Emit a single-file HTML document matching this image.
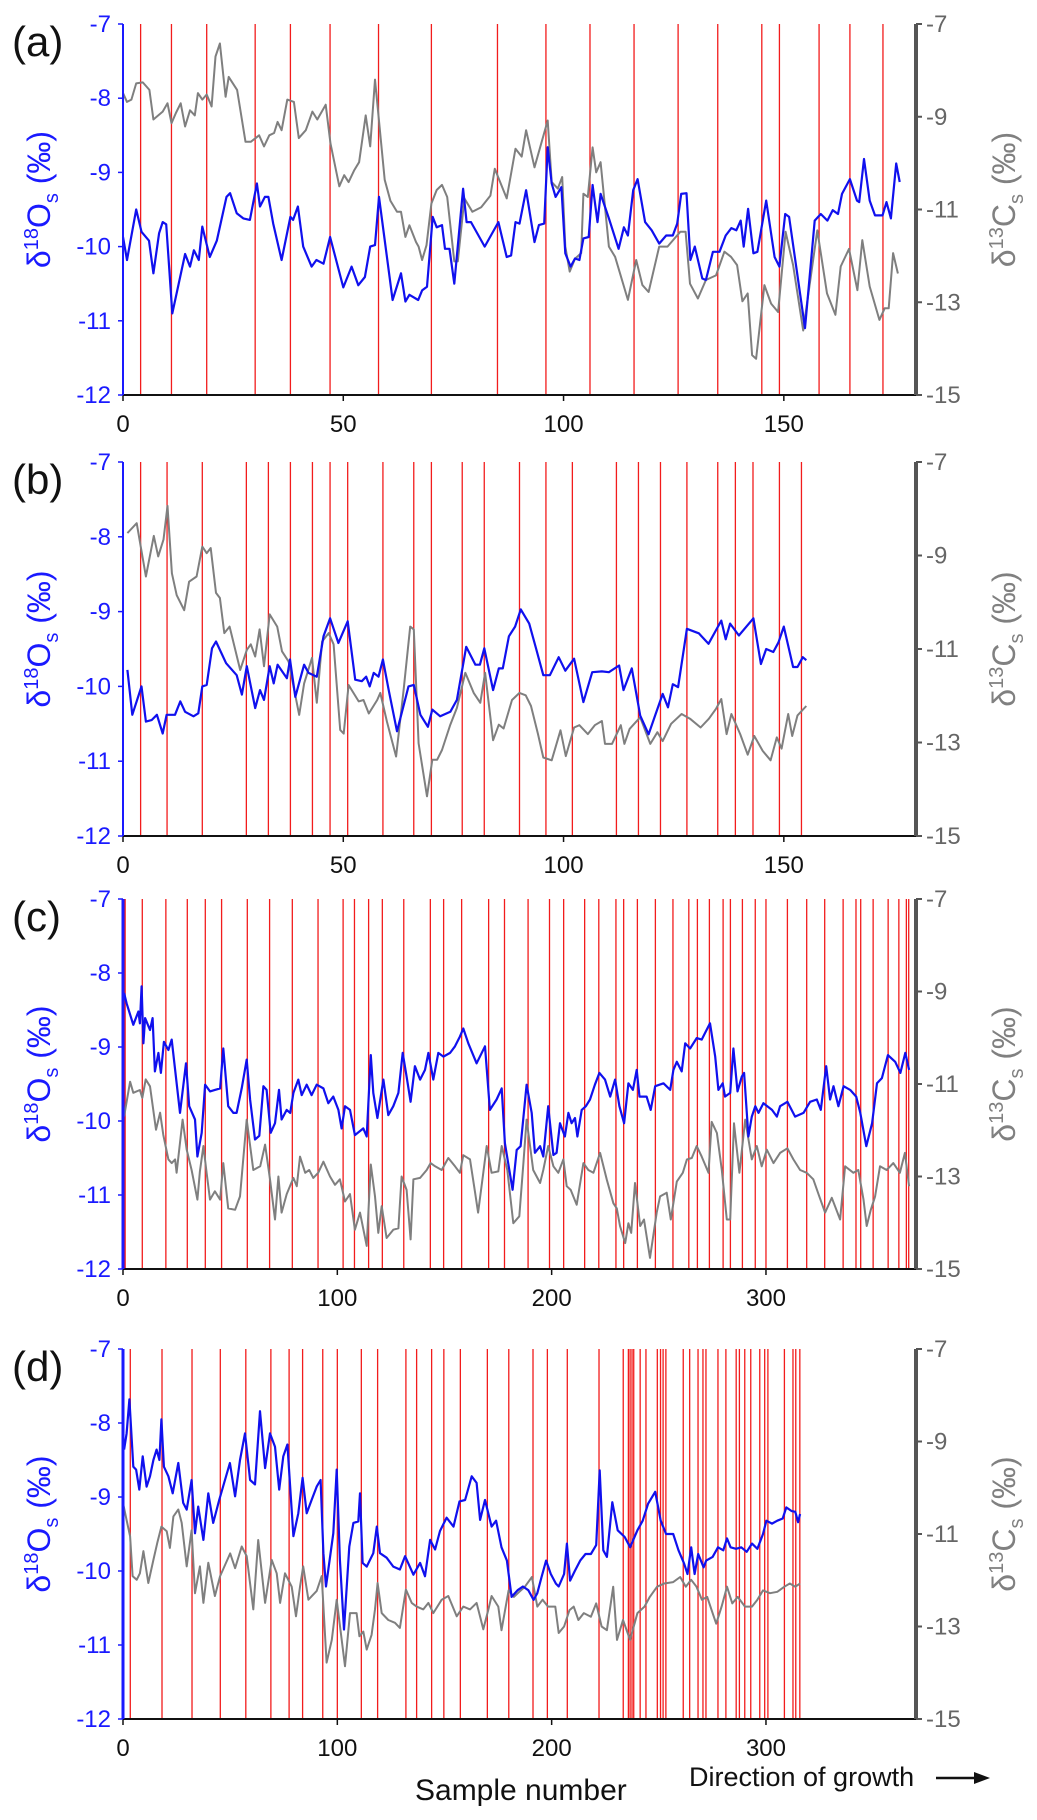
<!DOCTYPE html>
<html><head><meta charset="utf-8"><style>
html,body{margin:0;padding:0;background:#fff;}
svg{display:block;font-family:"Liberation Sans",sans-serif;}
</style></head><body>
<svg id="fig" width="1037" height="1820" viewBox="0 0 1037 1820" xmlns="http://www.w3.org/2000/svg"></svg>
<script>
// ---------- Panel (a) ----------
const aS18=[0,0.9,3,4.2,5.9,6.9,8.2,9,9.8,11.2,14.1,15.2,16.1,17.2,18,19.7,21.3,23.5,24.3,25.8,27.3,28.8,30.4,31.1,32.2,33,34.1,36,38,38.6,39.7,40.9,42.8,43.9,45.5,47,50,51.9,53.4,54.9,56.1,57.2,58.1,61.2,63.1,64.1,65,67,67.9,69,70.3,71.2,72.4,73.1,74.1,75.2,77.2,78,79,82.1,85.2,87.1,88.1,89.1,90,91.5,93.4,94.4,95.6,96.4,97.3,98.2,99.5,100.4,101.6,102.6,103.6,104.5,105.7,106.6,107.7,108.4,110.3,112.5,113.7,114.6,115.8,116.8,118.5,120,121.7,123.3,124.8,125.8,126.7,127.9,128.8,129.8,131.5,132.3,133.9,135.4,136.8,138.1,139.2,140.2,140.9,141.9,143.1,144,146,147.9,149,150.3,151.2,154.8,157,158.4,159.9,161.1,162.3,163.2,165,166.6,167.1,168.2,169.5,170.7,172.4,173.3,174.3,175.5,176.3];
const aD18=[-9.87,-10.18,-9.5,-9.8,-9.92,-10.36,-9.82,-9.67,-9.7,-10.9,-10.1,-10.27,-10.05,-10.18,-9.73,-10.14,-9.92,-9.33,-9.28,-9.55,-9.62,-9.64,-9.15,-9.46,-9.33,-9.33,-9.69,-10.18,-9.6,-9.64,-9.46,-10,-10.27,-10.18,-10.23,-9.87,-10.55,-10.27,-10.52,-10.41,-10,-9.98,-9.33,-10.72,-10.36,-10.74,-10.65,-10.72,-10.59,-10.54,-9.6,-9.74,-9.71,-10.03,-10.03,-10.5,-9.22,-9.67,-9.67,-10,-9.67,-10.14,-10.12,-9.67,-9.69,-9.24,-9.94,-9.71,-9.69,-8.66,-9.15,-9.33,-9.2,-10.09,-10.27,-10.16,-10.18,-9.89,-9.87,-9.17,-9.67,-9.29,-9.62,-10.03,-9.74,-9.85,-9.24,-9.09,-9.67,-9.78,-9.96,-9.85,-9.85,-9.69,-9.29,-9.28,-10.18,-10,-10.43,-10.45,-10.07,-10.07,-9.85,-9.75,-9.78,-9.65,-10,-9.49,-10.09,-10.07,-9.38,-10.14,-10.27,-9.56,-9.6,-11.1,-9.65,-9.56,-9.65,-9.51,-9.56,-9.29,-9.09,-9.38,-9.4,-8.82,-9.38,-9.58,-9.58,-9.4,-9.62,-8.88,-9.13];
const aS13=[0,0.9,1.9,3,4.5,6,6.9,9,10.1,11,12,13.1,14.1,15.2,16.3,17,18,19,20.1,21,22,23.3,24,25.9,27.8,29,30.9,32,33.2,34.3,35.1,36,37.3,38.8,39.9,41.5,43,44.1,46,47.1,49.1,50.2,51.2,52.5,53.6,55.1,56.1,57.2,59.4,60.7,62.2,63.1,64.1,65,66.5,67.1,67.9,68.9,70,71.2,72.4,73.6,75.2,76,77.5,79.3,81.3,83.4,84.4,87.1,89.1,90.5,91.5,93.4,96.4,97.3,98.7,99.7,100.4,101.4,102.6,104,104.5,105.5,106.6,107.4,108.4,110.3,111.7,114.6,116.5,117.9,119.3,121.7,123.6,125.5,126.5,127.7,128.7,130.5,132.3,134.6,136.5,138,139.4,140.6,141.8,142.8,143.7,145.6,147.1,148.7,150.4,152.1,154.4,157.6,159.8,161.7,162.9,164.8,166.7,167.8,169.5,171.7,172.9,173.8,174.8,175.9];
const aD13=[-8.49,-8.68,-8.63,-8.28,-8.26,-8.42,-9.06,-8.89,-8.71,-9.14,-8.92,-8.71,-9.21,-8.86,-8.97,-8.49,-8.63,-8.52,-8.78,-7.7,-7.42,-8.57,-8.14,-8.42,-9.54,-9.54,-9.4,-9.64,-9.4,-9.35,-9.11,-9.29,-8.63,-8.68,-9.46,-9.29,-8.89,-9.06,-8.74,-9.58,-10.5,-10.26,-10.41,-10.15,-9.98,-8.97,-9.64,-8.2,-10.36,-10.81,-11.05,-11.05,-11.59,-11.34,-11.7,-11.8,-12.09,-11.77,-10.87,-10.58,-10.47,-10.73,-12.12,-12.12,-10.76,-11.05,-10.95,-10.7,-10.12,-10.76,-9.69,-9.86,-9.29,-10.09,-9.08,-10.41,-10.55,-10.3,-11.8,-12.34,-12.06,-11.94,-10.66,-10.73,-9.66,-10.2,-9.98,-11.8,-12.02,-12.95,-12.09,-12.63,-12.78,-11.8,-11.8,-11.59,-11.48,-11.48,-12.6,-12.92,-12.52,-12.42,-11.91,-12.02,-12.2,-12.98,-12.81,-14.14,-14.22,-12.63,-13.03,-13.21,-11.48,-12.2,-13.61,-11.45,-12.81,-13.27,-12.23,-11.85,-12.74,-11.66,-12.66,-13.38,-13.13,-13.13,-11.94,-12.38];
const aMarks=[4,11,19,30,38,47,58,70,85,96,106,116,126,135,145,149,158,165,172.5];
const aTicks=[0,50,100,150];

// ---------- Panel (b) ----------
const bS18=[1,2.1,4.2,5.2,6.5,7.7,9,9.9,11.8,13,14.1,16,17.1,18,19,20.2,21.1,23.4,25.8,27,28.1,30,31.1,32,33.3,34.2,35.1,37.2,37.9,39.1,41.1,42.1,44,45.5,47,48.9,51,52.7,54.2,55.2,56,56.9,58,59,60.3,62.2,64.8,66,67.5,69.2,70.2,72,74.3,75.8,77.9,80,81,82,84,85.3,86.2,87.6,89,90.3,92.2,93.8,95.4,96.9,98.9,100.4,102.4,104.5,106.5,108.7,110.3,112.6,113.6,115.5,117.4,119.3,120.9,122.5,123.7,124.8,126,128,130.7,132.9,135.8,136.8,137.8,139.8,143.1,144.8,146,147.6,148.8,150,152.1,153.1,154.3,155.1];
const bD18=[-9.78,-10.38,-10,-10.47,-10.45,-10.38,-10.63,-10.38,-10.38,-10.2,-10.34,-10.4,-10.36,-10,-9.98,-9.49,-9.4,-9.69,-9.85,-10.11,-9.73,-10.29,-10.05,-10.18,-9.73,-9.96,-9.71,-9.89,-9.64,-10.14,-9.71,-9.82,-9.87,-9.33,-9.09,-9.42,-9.13,-9.91,-9.93,-9.87,-10,-9.82,-9.87,-9.64,-10.05,-10.6,-10,-9.98,-10.38,-10.54,-10.31,-10.4,-10.34,-10.18,-9.47,-9.71,-9.71,-9.49,-10.05,-9.76,-9.76,-9.33,-9.2,-8.97,-9.16,-9.5,-9.85,-9.85,-9.61,-9.79,-9.63,-10.21,-9.81,-9.8,-9.81,-9.72,-10.05,-9.76,-10.39,-10.64,-10.37,-10.1,-10.28,-9.97,-10.01,-9.23,-9.29,-9.43,-9.12,-9.37,-9.16,-9.32,-9.09,-9.7,-9.5,-9.54,-9.41,-9.2,-9.74,-9.74,-9.61,-9.65];
const bS13=[1,3.1,5.2,7,8,9.2,10.1,11.1,12.2,13.9,15,16.7,18,19,19.9,21.1,22,23,24.2,26.6,28.1,29,30,31,32,33.3,35,36.1,37.6,40,41.1,42.9,44,45.2,46.7,47.8,49.3,50.1,51.2,53.5,54.6,55.8,57.7,58.4,59.9,62,63.7,65.2,66,67.1,69,70.2,71.3,72.4,74.3,75.8,77.7,79.6,81.1,82.2,84,85.3,86.4,88.3,90,91.4,92.6,94.2,95.4,97.3,99.3,100.5,102.4,103.6,105.5,107.1,108.7,109.4,111,113,113.8,115,117.4,119.7,121.3,122.5,124.4,126.8,128.7,131.1,133,134.6,135.8,137,138.1,140.1,141.8,143.3,145.2,147,148.4,149.5,151,151.9,153.1,155.1];
const bD13=[-8.52,-8.31,-9.45,-8.58,-9.02,-8.66,-7.94,-9.38,-9.85,-10.17,-9.56,-9.45,-8.81,-8.95,-8.84,-9.8,-9.91,-10.66,-10.52,-11.45,-11.02,-10.9,-11.16,-10.58,-11.37,-10.26,-10.52,-11.05,-11.27,-12.41,-11.74,-11.19,-12.15,-10.84,-10.66,-10.9,-12.73,-12.81,-11.77,-12.12,-12.09,-12.38,-12.09,-11.94,-12.55,-13.3,-11.88,-10.52,-10.58,-13.02,-14.15,-13.37,-13.37,-13.16,-12.62,-12.26,-11.51,-11.94,-12.15,-11.51,-12.95,-12.62,-12.7,-12.09,-11.94,-11.99,-12.22,-12.82,-13.32,-13.38,-12.74,-13.29,-12.68,-12.63,-12.82,-12.63,-12.54,-13.03,-13.03,-12.63,-13.03,-12.71,-12.46,-13.03,-12.78,-12.97,-12.6,-12.39,-12.49,-12.68,-12.49,-12.28,-12.07,-12.82,-12.39,-12.82,-13.26,-12.86,-13.18,-13.38,-12.89,-13.13,-12.39,-12.86,-12.42,-12.22];
const bMarks=[4,10,18,28,33,38,43,47,51,59,66,70,77,82,90,96,102,112,117,122,128,135,139,143,149,154];
const bTicks=[0,50,100,150];

// ---------- Panel (c) ----------
const cS18=[0.5,1.7,4.8,7.2,7.9,8.7,9.5,10.3,12.6,13.8,14.9,16.5,17.7,19.1,21.2,22.7,26.6,29.4,30.9,33.6,34.7,36.7,38.3,40.6,42.9,45.3,46.8,49.1,51.5,53,55.4,57.7,59.3,61.6,63.6,65.5,67,68.9,70.9,72.8,74,76.4,78,79.5,81.8,83.4,85.7,88,90.4,93.5,95.8,98.1,100.5,102,103.6,105.9,108.2,112.1,113.7,115.6,116.8,118.7,121.5,123.8,126.1,128.5,130.5,132.3,134.2,136.2,138.6,140.9,142.5,144.8,147.1,149.5,152.6,154.9,157.2,158.8,161.1,165,168.9,171.2,174.3,176.7,178.2,181.8,183.7,185.5,188.3,190.7,192.2,194.6,196.1,198.4,200.8,202.3,203.9,206.2,207.8,209.3,210.9,212,214,216,217.9,220.2,222.3,224.9,227.3,229.6,231.6,233.8,235.8,237.9,239.7,241,244.3,246.2,248.3,252.2,255.3,256.8,258.4,260.7,262.3,264.6,267.7,270,271.6,273.9,276.3,277.8,279.8,280.9,283.3,284.8,286.7,288.7,289.8,291.8,293.4,295,296.5,298.8,302.8,305.1,306.6,310,313.6,317.5,320.6,323.7,325.6,328.1,329.9,331.5,333.8,336.2,339.3,342.1,344,346.8,349.5,351.8,354.1,356.9,360.3,362.7,365,366.8];
const cD18=[-8.27,-8.41,-8.7,-8.52,-8.68,-8.18,-8.95,-8.61,-8.77,-8.61,-9.33,-9.08,-9.35,-8.93,-9.04,-8.9,-9.89,-9.22,-9.8,-9.98,-10.48,-10.16,-9.51,-9.6,-9.58,-9.56,-9.02,-9.8,-9.89,-9.89,-9.56,-9.17,-9.71,-10.25,-10.2,-9.53,-9.58,-10.16,-10.03,-9.58,-9.98,-9.85,-9.89,-9.62,-9.44,-9.65,-9.51,-9.65,-9.51,-9.56,-9.76,-9.67,-9.85,-10.1,-9.8,-9.85,-10.19,-10.1,-10.21,-9.11,-9.62,-9.96,-9.44,-9.92,-9.8,-9.62,-9.08,-9.4,-9.74,-9.26,-9.44,-9.31,-9.08,-9.44,-9.08,-9.13,-9.08,-8.99,-8.86,-8.75,-8.95,-9.22,-8.99,-9.85,-9.71,-9.56,-10.3,-10.93,-10.39,-10.34,-9.51,-9.89,-10.43,-10.34,-10.48,-9.8,-10.46,-10.43,-10.03,-10.21,-9.89,-10.03,-9.96,-10.21,-9.85,-9.8,-9.71,-9.51,-9.35,-9.44,-9.67,-9.44,-9.8,-10.03,-9.49,-9.58,-9.31,-9.67,-9.67,-9.85,-9.53,-9.49,-9.58,-9.31,-9.2,-9.33,-8.95,-9.02,-8.88,-8.9,-8.81,-8.68,-9.13,-9.58,-9.49,-9.67,-9.62,-9.02,-9.6,-9.4,-9.35,-10.21,-9.94,-9.8,-9.89,-9.76,-9.85,-9.94,-9.8,-9.74,-9.94,-9.89,-9.74,-9.71,-9.85,-9.26,-9.71,-9.53,-9.8,-9.53,-9.58,-9.67,-9.89,-10.34,-10.03,-9.49,-9.42,-9.11,-9.2,-9.35,-9.08,-9.31];
const cS13=[0.5,3.3,4.8,7.9,9,10.6,12.6,15.4,17.3,18.8,21.2,22.7,24.3,25,27.8,29.7,32,34.7,35.9,37.5,39,40.6,42.9,45.3,46.8,49.1,52.3,54.6,57.7,60.8,64,66.3,68.6,70.9,72.5,74,76.4,79.5,81.1,82.6,85,86.9,88.8,91.1,93.5,96.6,98.9,101.2,103.6,105.9,108.2,110.6,113.7,115.6,117.6,119.1,120.7,123,126.1,128.5,130,132.3,134.2,135.5,138.6,141.7,143.5,145.6,148.7,151.8,154.9,157.2,158.8,161.9,164.2,165.7,168.1,169.7,172,175.1,176.7,179.3,182.1,184.9,186.8,188.3,191.4,194.6,196.1,198.4,200.8,203.1,205.5,207,208.9,211.7,214.8,217.1,219.5,222.6,225.7,228.8,230.4,231.9,234.3,235.8,237.1,238.9,241.3,243.1,245.9,249,250.6,253.7,255.6,258.4,261.2,263.1,265.4,267.7,270,273.2,274.7,277.1,279.4,281.7,283.3,285.1,287.6,290.3,293.4,295.7,298,300.4,303.5,306.6,310,312.8,315.9,319,322.1,324.9,327.6,330.7,334.6,336.9,340.8,343.1,345.5,347,348.9,350.9,353.2,356.3,359.4,362.5,364.8,366.8];
const cD13=[-11.7,-10.95,-11.19,-11.13,-11.3,-10.9,-11.05,-11.99,-11.62,-12.1,-12.63,-12.71,-12.63,-12.92,-11.77,-12.42,-12.86,-13.5,-12.89,-12.34,-12.92,-13.5,-13.32,-13.5,-12.71,-13.69,-13.72,-13.43,-11.77,-12.86,-12.78,-12.31,-13.06,-13.93,-13,-13.78,-13.38,-13.03,-13.21,-12.57,-12.92,-12.86,-13.03,-12.92,-12.68,-13,-13.18,-13.06,-13.54,-13.38,-14.15,-13.78,-14.5,-12.74,-13.43,-14.22,-13.64,-14.33,-14.15,-14.12,-13,-13.29,-14.36,-13.06,-13.03,-12.86,-12.71,-12.78,-12.86,-12.6,-12.78,-12.92,-12.54,-12.63,-13.32,-13.78,-12.92,-12.34,-12.92,-12.89,-12.34,-12.86,-14.01,-13.86,-12.71,-11.77,-12.86,-13.14,-12.86,-12.34,-12.78,-12.92,-12.63,-13.21,-13.29,-13.61,-12.71,-12.86,-12.92,-12.49,-13.06,-13.58,-13.69,-14.07,-14.44,-14.01,-14.22,-13.14,-14.07,-13.93,-14.76,-13.78,-13.43,-13.35,-13.93,-13.11,-12.92,-12.63,-12.6,-12.34,-12.57,-12.92,-11.82,-12.06,-12.86,-13.93,-13.93,-11.85,-12.92,-11.77,-12.63,-12.34,-12.78,-12.42,-12.71,-12.49,-12.39,-12.63,-12.86,-12.92,-13.06,-13.43,-13.78,-13.46,-13.93,-12.78,-12.92,-12.86,-13.5,-14.07,-13.72,-13.43,-12.78,-12.86,-12.71,-12.92,-12.49,-13.21];
const cMarks=[1,9,20,30,38.4,46,58,68.4,79,91,102.7,108,114.6,121,131,143.4,149.6,158,170.6,178,189,199,205.6,215.4,222,230,233.6,240,248.4,256.6,264,268,273.6,280,283.4,289,295,300,310,319,327.4,336,342,344.2,350,357,362,365.5,366.6];
const cTicks=[0,100,200,300];

// ---------- Panel (d) ----------
const dS18=[0.5,1.7,3,4.8,6.1,7.6,9.2,11,12.6,14.2,15.7,17,17.9,19.1,21.2,23.2,25.8,28.1,29.7,32,33.6,35.1,37.5,39.8,42.1,44.9,49.9,52.3,54.6,56.9,59.3,61.6,63.9,66.3,68.6,70.9,72.9,74.8,76.7,79.5,81.8,83.8,85.7,88,90.4,92.2,93.5,94.7,98.1,99.7,101.2,103.1,105.6,107.5,109.8,110.6,111.8,113.7,116.8,118.4,119.9,123,126.1,129.2,131.6,135.5,138.6,140.9,143.3,145.6,147.9,151,154.2,157,159.6,162.7,165,166.6,168.9,172,174.1,176.6,179.1,181.3,184.1,186.6,189.1,191.6,193.3,195.3,197.4,199.6,202,203.3,205.8,207.1,208.6,210.8,213.3,215.8,218.3,220.8,222.4,224.1,225.8,228.3,230.8,234.1,236.6,240,242.5,245,248.3,250.9,253.4,256.7,259.2,261.8,263.4,265.1,266.7,268.4,270.9,272.1,275.1,277.6,280.1,281.8,283.5,286,288.5,291,293.5,296,298.6,300.2,302.8,305.3,307.8,309.5,312,313.7,315,315.9];
const dD18=[-8.36,-8.14,-7.68,-8.59,-8.63,-8.9,-8.45,-8.86,-8.72,-8.5,-8.36,-8.5,-7.95,-8.59,-8.72,-8.95,-8.54,-9.08,-9.17,-8.77,-9.49,-9.13,-9.58,-8.95,-9.35,-9.04,-8.54,-8.99,-8.5,-8.14,-8.77,-8.83,-7.84,-8.61,-8.14,-8.32,-8.9,-8.45,-8.29,-9.53,-9.22,-8.74,-9.22,-9.04,-8.86,-8.77,-9.76,-10.21,-9.49,-8.63,-9.85,-10.79,-9.67,-9.35,-9.33,-8.95,-9.89,-9.94,-9.76,-9.4,-9.76,-9.82,-9.94,-9.98,-9.8,-10.05,-9.89,-10.07,-9.58,-9.71,-9.46,-9.28,-9.4,-9.06,-9.04,-8.72,-8.81,-9.31,-9.04,-9.4,-9.32,-9.68,-9.86,-10.35,-10.26,-10.21,-10.26,-10.39,-10.3,-10.08,-9.86,-10.04,-10.17,-10.21,-10.04,-9.63,-10.13,-10,-9.86,-9.77,-9.77,-9.65,-8.64,-9.72,-9.81,-9.07,-9.45,-9.54,-9.68,-9.45,-9.32,-9.09,-8.93,-9.32,-9.5,-9.5,-9.72,-9.9,-10.04,-9.68,-10.04,-9.77,-9.95,-9.86,-9.81,-9.68,-9.72,-9.56,-9.68,-9.7,-9.68,-9.74,-9.63,-9.7,-9.5,-9.32,-9.36,-9.32,-9.29,-9.14,-9.19,-9.2,-9.34,-9.23];
const dS13=[0,1.7,3.3,4.5,6.4,7.9,9.5,11.8,14.2,16,17.9,20.4,21.9,23.5,25.8,27.4,29.7,32,33.6,35.9,37.5,39.8,42.9,45.3,50,52.3,55.4,57.7,60.8,63.1,66.3,69.4,71.7,73.3,75.6,78.7,80.7,82.6,84.1,86.5,90.4,92.7,95,97.4,99.7,103.6,105.9,109,110.3,112.1,113.7,116,117.6,118.8,120.7,123.8,126.9,129.2,132,134.7,137,140.1,142.5,144.8,148.7,151.8,155.7,158.8,161.9,165,168.1,170.5,172,175.1,176.6,179.9,182.4,184.9,187.5,190.8,193.3,195.8,198.3,201.7,203.3,205.8,208.3,210.3,212.5,215,218.3,220.8,223.3,225.8,228.7,230.5,233.3,236.6,240,243.3,245.8,249.2,252.5,256.7,260,262.6,265.1,267.6,270.1,272.6,275.1,276.8,279.3,281.8,284.3,286.8,290.2,293.5,296,298.6,301.9,305.3,308.6,311.1,313.7,315.9];
const dD13=[-10.33,-10.7,-11.05,-11.91,-11.99,-11.85,-11.37,-12.06,-11.56,-11.19,-10.84,-10.94,-11.3,-10.62,-10.47,-10.76,-11.7,-10.92,-12.28,-11.7,-12.49,-11.62,-12.34,-11.91,-11.42,-11.74,-11.27,-11.48,-12.63,-11.13,-12.49,-11.56,-11.85,-12.49,-11.85,-12.14,-12.78,-12.14,-11.7,-12.42,-12.23,-11.91,-13.78,-13.29,-12.42,-13.86,-12.71,-12.71,-13.21,-13.11,-13.5,-13.18,-12.63,-12.06,-12.71,-12.86,-12.92,-13.03,-12.2,-12.49,-12.57,-12.63,-12.49,-12.71,-12.42,-12.34,-12.78,-12.57,-12.63,-12.49,-13.06,-12.63,-12.34,-12.57,-13.08,-12.22,-12.36,-12.25,-12.14,-11.93,-12.57,-12.42,-12.57,-12.57,-13.14,-13,-12.65,-12.57,-12.86,-12.71,-12.79,-12.5,-13,-13.08,-12.14,-13.29,-12.86,-13.29,-12.71,-12.57,-12.36,-12.14,-12.07,-12.04,-11.93,-12.14,-11.99,-12.14,-12.42,-12.36,-12.71,-12.94,-12.57,-12.14,-12.5,-12.36,-12.57,-12.57,-12.42,-12.22,-12.28,-12.25,-12.14,-12.07,-12.14,-12.07];
const dMarks=[3.4,18.2,32.2,45.4,57.3,69,77.5,83.8,93.2,100,111.2,118.8,132,137,144,149.7,157.4,170,180,191.3,198,207.3,222.1,233.4,235.8,236.6,237.5,238.3,241.3,244,249.3,250.8,252,253.3,261.4,264.4,268.3,270.6,272,277.6,281.3,286.1,287.6,290.1,292.9,297.1,299.4,300.9,308.6,312.6,313.9,315.8];
const dTicks=[0,100,200,300];

const leftTicks=[-7,-8,-9,-10,-11,-12];
const rightTicks=[-7,-9,-11,-13,-15];

const NS='http://www.w3.org/2000/svg';
const svg=document.getElementById('fig');
const X0=123, X1=916;
function mk(tag,attrs,parent){const e=document.createElementNS(NS,tag);for(const k in attrs)e.setAttribute(k,attrs[k]);(parent||svg).appendChild(e);return e;}

const panels=[
 {id:'a',top:24,bot:395,xmax:180,s18:aS18,d18:aD18,s13:aS13,d13:aD13,marks:aMarks,ticks:aTicks},
 {id:'b',top:462,bot:836,xmax:180,s18:bS18,d18:bD18,s13:bS13,d13:bD13,marks:bMarks,ticks:bTicks},
 {id:'c',top:899,bot:1269,xmax:370,s18:cS18,d18:cD18,s13:cS13,d13:cD13,marks:cMarks,ticks:cTicks},
 {id:'d',top:1349,bot:1719,xmax:370,s18:dS18,d18:dD18,s13:dS13,d13:dD13,marks:dMarks,ticks:dTicks}
];

panels.forEach(p=>{
  const g=mk('g',{});
  
  
  const xs=s=>X0+s*(X1-X0)/p.xmax;
  const yL=v=>p.top+(-7-v)*(p.bot-p.top)/5;
  const yR=v=>p.top+(-7-v)*(p.bot-p.top)/8;

  const mg=mk('g',{},g);
  
  
  p.marks.forEach(m=>{
    const l=mk('line',{x1:xs(m),x2:xs(m),y1:p.top,y2:p.bot,stroke:'#f21c1c','stroke-width':1.3},mg);
    
    
  });
  const pc=mk('polyline',{points:p.s13.map((s,i)=>xs(s).toFixed(1)+','+yR(p.d13[i]).toFixed(1)).join(' '),fill:'none',stroke:'#7f7f7f','stroke-width':2,'stroke-linejoin':'round'},g);
  
  
  const po=mk('polyline',{points:p.s18.map((s,i)=>xs(s).toFixed(1)+','+yL(p.d18[i]).toFixed(1)).join(' '),fill:'none',stroke:'#1010ee','stroke-width':2.2,'stroke-linejoin':'round'},g);
  
  

  const xa=mk('line',{x1:X0,x2:X1,y1:p.bot,y2:p.bot,stroke:'#111','stroke-width':2},g);
  
  
  p.ticks.forEach(t=>{
    mk('line',{x1:xs(t),x2:xs(t),y1:p.bot,y2:p.bot+6,stroke:'#111','stroke-width':1.5},g);
    const tx=mk('text',{x:xs(t),y:p.bot+37,'text-anchor':'middle','font-size':24,fill:'#111'},g);
    tx.textContent=t;
    
    
  });
  const la=mk('line',{x1:X0,x2:X0,y1:p.top,y2:p.bot,stroke:'#1a1aff','stroke-width':(p.id==='c'||p.id==='d')?3:2},g);
  
  
  leftTicks.forEach(t=>{
    mk('line',{x1:X0-5,x2:X0,y1:yL(t),y2:yL(t),stroke:'#1a1aff','stroke-width':1.5},g);
    const tx=mk('text',{x:111,y:yL(t)+8,'text-anchor':'end','font-size':24,fill:'#1a1aff'},g);
    tx.textContent=t;
    
    
  });
  const ra=mk('line',{x1:X1,x2:X1,y1:p.top,y2:p.bot,stroke:'#555','stroke-width':4},g);
  
  
  rightTicks.forEach(t=>{
    mk('line',{x1:X1,x2:X1+6,y1:yR(t),y2:yR(t),stroke:'#555','stroke-width':2},g);
    const tx=mk('text',{x:926,y:yR(t)+8,'font-size':24,fill:'#666'},g);
    tx.textContent=t;
    
    
  });
  const pl=mk('text',{x:12,y:p.top+32,'font-size':42,fill:'#111'},g);
  pl.textContent='('+p.id+')';
  
  
  const cy=(p.top+p.bot)/2-10;
  const lt=mk('text',{transform:'translate(50,'+cy+') rotate(-90)','text-anchor':'middle','font-size':32,fill:'#1a1aff'},g);
  lt.innerHTML='δ<tspan dy="-12" font-size="20">18</tspan><tspan dy="12">O</tspan><tspan dy="8" font-size="20">s</tspan><tspan dy="-8"> (‰)</tspan>';
  
  
  const rt=mk('text',{transform:'translate(1015,'+cy+') rotate(-90)','text-anchor':'middle','font-size':32,fill:'#808080'},g);
  rt.innerHTML='δ<tspan dy="-12" font-size="20">13</tspan><tspan dy="12">C</tspan><tspan dy="8" font-size="20">s</tspan><tspan dy="-8"> (‰)</tspan>';
  
  
});

const xt=mk('text',{x:415,y:1800,'font-size':30,fill:'#111'});
xt.textContent='Sample number';


const dg=mk('text',{x:689,y:1786,'font-size':27,fill:'#111'});
dg.textContent='Direction of growth';


const ar=mk('line',{x1:936,x2:977,y1:1778,y2:1778,stroke:'#111','stroke-width':2.5});


const ah=mk('polygon',{points:'974,1772 990,1778 974,1784',fill:'#111'});


</script>
</body></html>
